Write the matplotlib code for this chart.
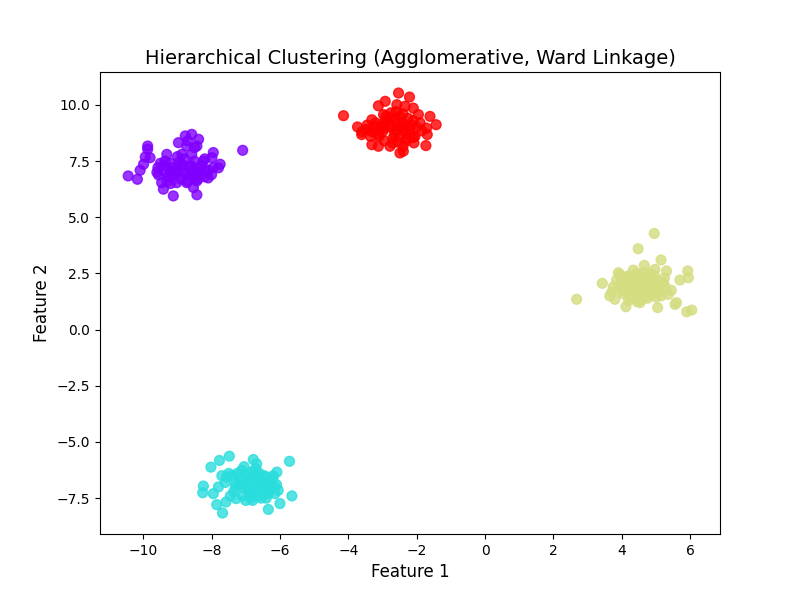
import matplotlib.pyplot as plt
import numpy as np

# cluster 0 (purple)
c0_x = [-10.44, -10.17, -10.09, -9.99, -9.94, -9.87, -9.87, -9.80, -9.57, -9.46,
        -9.41, -9.12, -9.31, -9.36, -9.21, -8.97, -8.77, -8.58, -8.38, -8.73,
        -8.43, -8.87, -8.58, -8.24, -7.95, -7.99, -7.75, -7.95, -8.19, -7.09,
        -8.53, -8.43, -8.43, -8.73, -9.02, -9.55, -9.2, -9.0, -8.8, -8.6,
        -8.4, -8.2, -8.9, -8.7, -9.1, -8.5, -8.3, -8.1, -9.3, -8.8,
        -9.0, -8.6, -8.4, -8.0, -9.4, -8.9, -8.7, -8.5, -9.6, -9.2,
        -8.2, -7.8, -9.05, -8.65, -8.35, -9.25, -8.95, -8.55, -8.75, -9.15,
        -8.45, -9.5, -8.1, -8.85, -9.35]
c0_y = [6.84, 6.69, 7.09, 7.36, 7.68, 8.17, 8.03, 7.65, 7.21, 6.54,
        6.25, 5.95, 7.80, 7.50, 7.06, 8.32, 8.62, 8.69, 8.47, 8.17,
        8.17, 7.80, 7.80, 7.50, 7.88, 7.65, 7.36, 7.21, 7.06, 7.98,
        6.32, 6.00, 6.62, 6.54, 6.54, 6.88, 7.4, 7.1, 6.9, 7.3,
        7.0, 6.8, 6.7, 6.6, 6.9, 7.5, 7.3, 7.1, 6.6, 7.6,
        7.7, 6.9, 6.7, 6.9, 7.3, 7.3, 8.4, 8.1, 7.0, 6.5,
        7.6, 7.2, 7.0, 7.25, 7.15, 6.85, 7.45, 7.05, 6.95, 7.2,
        6.8, 7.4, 6.75, 7.35, 7.0]

# cluster 1 (cyan)
c1_x = [-7.48, -7.77, -8.02, -5.72, -6.78, -6.68, -8.24, -8.26, -7.95, -7.85,
        -7.68, -7.58, -7.28, -6.34, -6.0, -5.65, -6.09, -6.43, -7.56, -7.12,
        -7.0, -6.9, -6.8, -6.7, -6.6, -6.5, -7.2, -7.3, -7.1, -6.95,
        -6.85, -6.75, -6.65, -6.55, -6.45, -6.35, -6.25, -6.15, -7.4, -7.05,
        -6.9, -6.6, -6.4, -6.2, -7.35, -7.15, -6.8, -6.5, -6.3, -7.6,
        -7.8, -7.0, -6.7, -6.45, -6.1, -7.25, -6.95, -6.55, -7.45, -6.05,
        -6.85, -7.1, -6.6, -6.35, -7.5, -6.2, -7.05, -6.75, -6.5, -6.9,
        -7.3, -6.4, -7.7, -6.15, -6.8]
c1_y = [-5.63, -5.82, -6.12, -5.86, -5.78, -5.97, -6.96, -7.26, -7.30, -7.79,
        -8.16, -7.67, -7.52, -8.00, -7.74, -7.40, -6.34, -6.56, -6.56, -6.26,
        -6.9, -7.1, -6.7, -7.2, -6.9, -7.3, -6.6, -7.0, -7.4, -6.4,
        -7.5, -6.5, -7.4, -6.6, -6.9, -7.2, -6.7, -7.0, -6.5, -6.1,
        -7.3, -6.4, -7.5, -6.6, -7.2, -6.9, -6.3, -6.95, -7.15, -6.8,
        -7.0, -7.6, -6.2, -6.5, -6.9, -6.4, -6.85, -7.5, -7.4, -7.15,
        -7.05, -6.75, -6.75, -7.3, -6.4, -6.5, -7.05, -7.2, -6.8, -6.6,
        -6.85, -6.95, -6.5, -7.3, -7.6]

# cluster 2 (yellow)
c2_x = [2.68, 4.95, 4.48, 5.15, 4.66, 3.43, 3.71, 3.80, 4.12, 4.53,
        5.05, 5.56, 5.93, 5.95, 5.70, 5.90, 6.05, 5.36, 5.26, 3.90,
        4.34, 4.97, 5.31, 4.0, 4.1, 4.2, 4.3, 4.4, 4.5, 4.6,
        4.7, 4.8, 4.9, 5.0, 5.1, 3.95, 4.15, 4.35, 4.55, 4.75,
        4.95, 5.15, 4.05, 4.25, 4.45, 4.65, 4.85, 5.05, 3.85, 4.6,
        4.2, 4.8, 4.4, 5.2, 3.95, 4.7, 4.3, 5.0, 4.5, 4.1,
        4.9, 5.45, 5.6, 3.75, 4.25, 4.65, 4.85, 4.35, 4.55, 5.25,
        4.0, 4.75, 4.45, 5.1, 3.65]
c2_y = [1.35, 4.28, 3.60, 3.10, 2.86, 2.06, 1.67, 1.35, 1.02, 1.20,
        0.98, 1.12, 2.61, 2.31, 2.21, 0.79, 0.87, 1.57, 1.94, 2.53,
        2.65, 2.68, 2.61, 2.2, 1.9, 2.4, 1.7, 2.1, 1.5, 2.3,
        1.8, 2.5, 1.6, 2.2, 1.9, 1.9, 2.3, 1.6, 2.0, 1.4,
        2.4, 1.5, 1.6, 2.0, 2.5, 1.7, 2.1, 1.7, 2.2, 1.35,
        1.3, 2.35, 1.85, 2.1, 2.45, 2.05, 2.35, 1.45, 1.75, 2.1,
        1.95, 1.75, 1.2, 1.9, 1.45, 2.55, 1.55, 2.2, 2.15, 2.3,
        1.75, 1.85, 1.25, 2.0, 1.5]

# cluster 3 (red)
c3_x = [-4.14, -3.73, -3.61, -3.12, -2.92, -2.53, -2.21, -2.58, -2.34, -2.10,
        -1.95, -1.61, -1.43, -1.71, -1.69, -1.73, -2.08, -2.49, -2.39, -2.78,
        -3.12, -3.31, -3.31, -2.97, -3.22, -3.4, -3.2, -3.0, -2.8, -2.6,
        -2.4, -2.2, -2.0, -3.1, -2.9, -2.7, -2.5, -2.3, -2.1, -3.3,
        -3.05, -2.85, -2.65, -2.45, -2.25, -2.05, -3.5, -2.75, -2.55, -2.35,
        -2.95, -2.15, -3.15, -2.6, -2.4, -2.7, -2.3, -2.9, -2.5, -1.9,
        -3.45, -2.2, -2.8, -2.45, -2.65, -3.0, -2.35, -1.85, -2.55, -3.35,
        -2.75, -2.1, -2.95, -2.4, -3.6]
c3_y = [9.52, 9.02, 8.68, 9.96, 10.16, 10.53, 10.35, 10.01, 9.94, 9.86,
        9.57, 9.49, 9.12, 8.97, 8.68, 8.19, 8.31, 7.86, 7.94, 8.16,
        8.16, 8.23, 9.34, 9.57, 9.05, 8.9, 9.2, 8.8, 9.1, 8.9,
        9.2, 8.7, 9.0, 8.6, 9.3, 8.5, 9.5, 8.5, 9.3, 8.8,
        9.0, 9.3, 8.7, 9.0, 9.4, 8.6, 8.9, 9.0, 9.2, 8.8,
        8.4, 9.1, 8.7, 9.7, 9.6, 8.3, 8.4, 9.5, 8.6, 9.2,
        9.1, 8.9, 9.45, 8.95, 9.35, 9.15, 9.05, 8.85, 8.35, 8.6,
        9.65, 8.55, 8.95, 8.15, 8.8]

x_ticks = [-10, -8, -6, -4, -2, 0, 2, 4, 6]

X = np.array(c0_x + c1_x + c2_x + c3_x)
Y = np.array(c0_y + c1_y + c2_y + c3_y)
labels = np.array([0] * len(c0_x) + [1] * len(c1_x) + [2] * len(c2_x) + [3] * len(c3_x))

plt.figure(figsize=(8, 6))
plt.scatter(X, Y, c=labels, cmap='rainbow', s=50, alpha=0.8)
plt.xticks(x_ticks)
plt.title('Hierarchical Clustering (Agglomerative, Ward Linkage)', fontsize=14)
plt.xlabel('Feature 1', fontsize=12)
plt.ylabel('Feature 2', fontsize=12)
plt.savefig('out.png')
